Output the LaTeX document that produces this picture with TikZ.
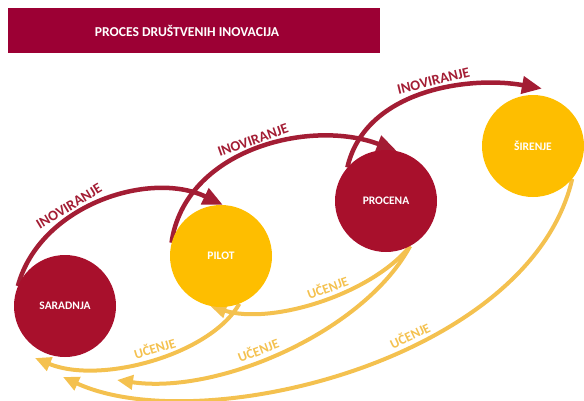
\documentclass[tikz,border=0pt]{standalone}
\usepackage{fontspec}
\setmainfont{Carlito}
\usetikzlibrary{arrows.meta}
\definecolor{titlered}{RGB}{156,0,52}
\definecolor{stagered}{RGB}{168,16,44}
\definecolor{stageyellow}{RGB}{254,190,0}
\definecolor{innored}{RGB}{163,29,52}
\definecolor{learnyellow}{RGB}{244,193,79}

\begin{document}
\begin{tikzpicture}[x=1pt,y=-1pt,>=Latex,
  stage/.style={circle,minimum size=102pt,inner sep=0pt,text=white,font=\bfseries\fontsize{11.5}{13}\selectfont},
  innoarrow/.style={innored,line width=4.5pt,-{Triangle[length=20pt,width=17pt]}},
  learnarrow/.style={learnyellow,line width=4pt,-{Triangle[length=16pt,width=14pt]}},
  innolabel/.style={text=innored,inner sep=0pt,sloped,above=3pt,font=\bfseries\fontsize{14.5}{16}\selectfont},
  learnlabel/.style={text=learnyellow,inner sep=0pt,sloped,above=3pt,font=\bfseries\fontsize{13.5}{15}\selectfont}]
  \useasboundingbox (0,0) rectangle (584,400);
  % title bar
  \fill[titlered] (8,8) rectangle (380,53);
  \node[text=white,font=\bfseries\fontsize{13.6}{15}\selectfont] (title) at (187,31) {PROCES DRUŠTVENIH INOVACIJA};
  % stages (placed first so that arrows can use their anchors)
  \node[stage] (saradnja) at (65,306) {};
  \node[stage] (pilot) at (221,256) {};
  \node[stage] (procena) at (386,201) {};
  \node[stage] (sirenje) at (533,146) {};
  \coordinate (inno3end) at ([yshift=7pt]sirenje.80);
  \coordinate (learn1end) at (35,358);
  \coordinate (learn3end) at (117,380);
  \coordinate (learn4end) at (63,377);
  % innovating
  \draw[innoarrow] (saradnja.157) .. controls +(22,-81) and +(-73,-35) .. (pilot.88)
    node[innolabel,pos=0.38] (inno1) {INOVIRANJE};
  \draw[innoarrow] (pilot.165) .. controls +(13,-93) and +(-87,-33) .. (procena.78)
    node[innolabel,pos=0.5] (inno2) {INOVIRANJE};
  \draw[innoarrow] (procena.139) .. controls +(18,-78) and +(-72,-13) .. (inno3end)
    node[innolabel,pos=0.55] (inno3) {INOVIRANJE};
  % learning
  \draw[learnarrow] (pilot.-69) .. controls +(-29,51) and +(65,27) .. (learn1end)
    node[learnlabel,pos=0.47] (learn1) {UČENJE};
  \draw[learnarrow] (procena.-62) .. controls +(-40,49) and +(60,19) .. (pilot.-102)
    node[learnlabel,pos=0.44] (learn2) {UČENJE};
  \draw[learnarrow] (procena.-62) .. controls +(-45,84) and +(103,15) .. (learn3end)
    node[learnlabel,pos=0.57] (learn3) {UČENJE};
  \draw[learnarrow] (sirenje.-40) .. controls +(-42,181) and +(137,63) .. (learn4end)
    node[learnlabel,pos=0.4] (learn4) {UČENJE};
  % circles on top
  \node[stage,fill=stagered] (saradnjaf) at (saradnja) {SARADNJA};
  \node[stage,fill=stageyellow] (pilotf) at (pilot) {PILOT};
  \node[stage,fill=stagered] (procenaf) at (procena) {PROCENA};
  \node[stage,fill=stageyellow] (sirenjef) at (sirenje) {ŠIRENJE};
\end{tikzpicture}
\end{document}
